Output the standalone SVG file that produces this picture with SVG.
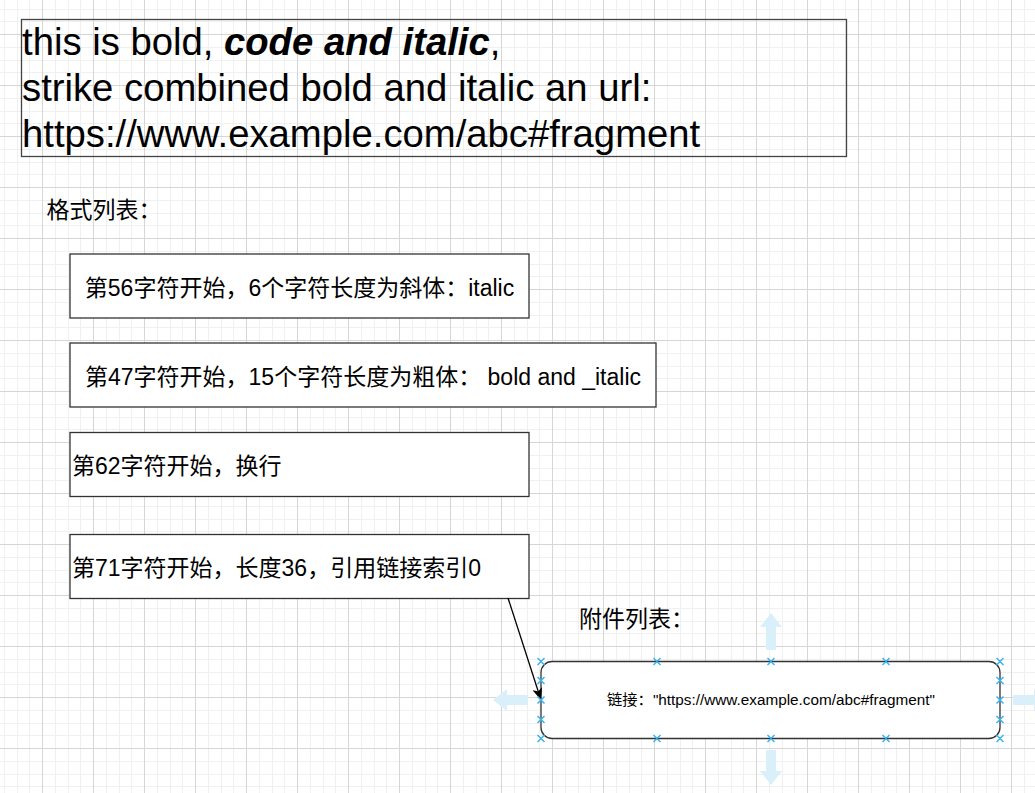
<svg xmlns="http://www.w3.org/2000/svg" width="1035" height="793" viewBox="0 0 1035 793">
<style>
.box{fill:#ffffff;stroke:#333333;stroke-width:1.3}
.t{font-family:"Liberation Sans","Noto Sans CJK SC",sans-serif;fill:#000000}
.big{font-size:38.25px}
.mid{font-size:23px}
.sm{font-size:15.3px}
.pt{fill:none;stroke:#3cb3ec;stroke-width:1.5}
.hov{fill:#d9f0fb}
</style>
<defs>
<pattern id="grid" width="51" height="51" patternUnits="userSpaceOnUse" x="42" y="34">
<rect x="13" y="0" width="1" height="51" fill="#f0f0f0"/>
<rect x="26" y="0" width="1" height="51" fill="#f0f0f0"/>
<rect x="38" y="0" width="1" height="51" fill="#f0f0f0"/>
<rect x="0" y="13" width="51" height="1" fill="#f0f0f0"/>
<rect x="0" y="26" width="51" height="1" fill="#f0f0f0"/>
<rect x="0" y="38" width="51" height="1" fill="#f0f0f0"/>
<rect x="0" y="0" width="1" height="51" fill="#d6d6d6"/>
<rect x="0" y="0" width="51" height="1" fill="#d6d6d6"/>
</pattern>
<marker id="arr" viewBox="0 0 12 10" refX="12" refY="5" markerWidth="12" markerHeight="10" markerUnits="userSpaceOnUse" orient="auto">
<path d="M0,0 L12,5 L0,10 L3,5 Z" fill="#000000"/>
</marker>
</defs>
<rect x="0" y="0" width="1035" height="793" fill="#ffffff"/>
<rect x="0" y="0" width="1035" height="793" fill="url(#grid)"/>

<g id="title">
<rect x="21.5" y="19.5" width="825" height="137" fill="none" stroke="#444444" stroke-width="1.3"/>
<text class="t big" x="22" y="55">this is bold, <tspan font-weight="bold" font-style="italic">code and italic</tspan>,</text>
<text class="t big" x="22" y="101">strike combined bold and italic an url:</text>
<text class="t big" x="22" y="147">https://www.example.com/abc#fragment</text>
</g>

<g id="format-label">
<text class="t mid" x="46.5" y="218">格式列表：</text>
</g>

<g id="fmt1">
<rect class="box" x="70" y="254" width="459" height="64"/>
<text class="t mid" x="299.5" y="295.5" text-anchor="middle">第56字符开始，6个字符长度为斜体：italic</text>
</g>

<g id="fmt2">
<rect class="box" x="70" y="343" width="586" height="64"/>
<text class="t mid" x="363" y="384.5" text-anchor="middle">第47字符开始，15个字符长度为粗体： bold and _italic</text>
</g>

<g id="fmt3">
<rect class="box" x="70" y="432.5" width="459" height="64"/>
<text class="t mid" x="72" y="474">第62字符开始，换行</text>
</g>

<g id="fmt4">
<rect class="box" x="70" y="534.5" width="459" height="64"/>
<text class="t mid" x="72" y="576">第71字符开始，长度36，引用链接索引0</text>
</g>

<g id="attach-label">
<text class="t mid" x="579" y="626.5">附件列表：</text>
</g>

<g id="hover-arrows">
<path class="hov" d="M771,613 L782,627 L776,627 L776,650 L766,650 L766,627 L760,627 Z"/>
<path class="hov" d="M771,785 L782,771 L776,771 L776,750 L766,750 L766,771 L760,771 Z"/>
<path class="hov" d="M493,700 L507,689 L507,695 L528,695 L528,705 L507,705 L507,711 Z"/>
<path class="hov" d="M1048,700 L1034,689 L1034,695 L1013,695 L1013,705 L1034,705 L1034,711 Z"/>
</g>

<g id="attachment">
<rect class="box" x="541" y="661.5" width="459" height="77" rx="11" ry="11"/>
<text class="t sm" x="771" y="705" text-anchor="middle">链接："https://www.example.com/abc#fragment"</text>
</g>

<g id="connectors">
<path d="M508,598 L541,700" fill="none" stroke="#000000" stroke-width="1.3" marker-end="url(#arr)"/>
</g>

<g id="connection-points">
<path class="pt" d="M537.5,658 l7,7 m0,-7 l-7,7 M653.5,658 l7,7 m0,-7 l-7,7 M767.5,658 l7,7 m0,-7 l-7,7 M882.5,658 l7,7 m0,-7 l-7,7 M996.5,658 l7,7 m0,-7 l-7,7"/>
<path class="pt" d="M537.5,735 l7,7 m0,-7 l-7,7 M653.5,735 l7,7 m0,-7 l-7,7 M767.5,735 l7,7 m0,-7 l-7,7 M882.5,735 l7,7 m0,-7 l-7,7 M996.5,735 l7,7 m0,-7 l-7,7"/>
<path class="pt" d="M537.5,677 l7,7 m0,-7 l-7,7 M537.5,696.5 l7,7 m0,-7 l-7,7 M537.5,716 l7,7 m0,-7 l-7,7"/>
<path class="pt" d="M996.5,677 l7,7 m0,-7 l-7,7 M996.5,696.5 l7,7 m0,-7 l-7,7 M996.5,716 l7,7 m0,-7 l-7,7"/>
</g>
</svg>
